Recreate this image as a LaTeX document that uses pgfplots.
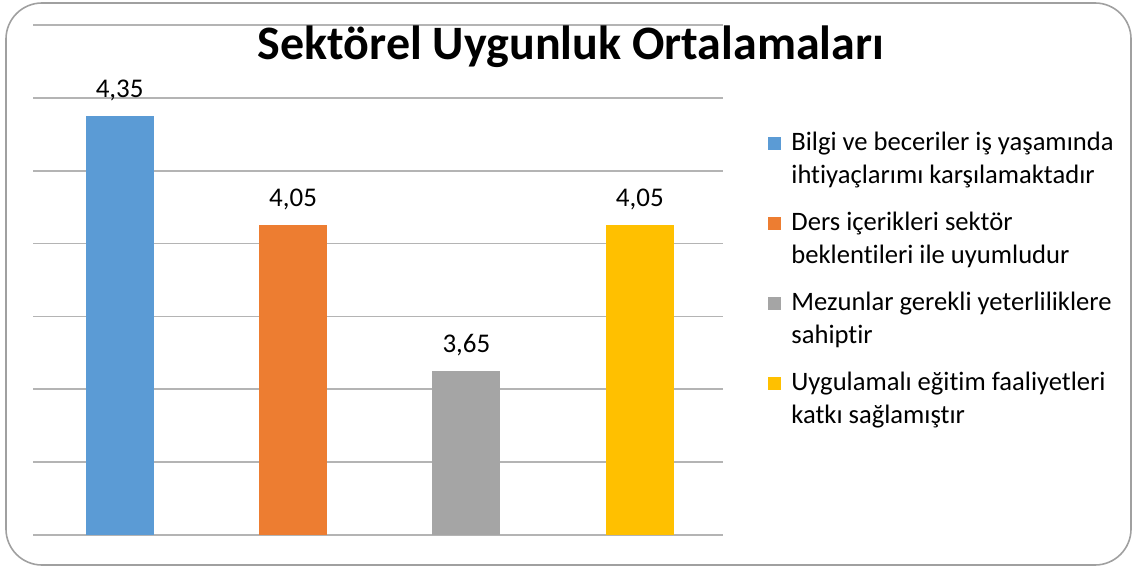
\documentclass[border=0pt]{standalone}
\usepackage{fontspec}
\setmainfont{Carlito}[Ligatures=NoCommon]
\usepackage{pgfplots}
\pgfplotsset{compat=1.18}

\definecolor{cblue}{HTML}{5B9BD5}
\definecolor{corange}{HTML}{ED7D31}
\definecolor{cgray}{HTML}{A5A5A5}
\definecolor{cyellow}{HTML}{FFC000}
\definecolor{gridc}{HTML}{B4B4B4}
\definecolor{framec}{HTML}{A0A0A0}

\begin{document}
\begin{tikzpicture}
  % 1 px of the reference = 0.5pt; axis lower-left at px (33,535)
  \begin{scope}[x=0.5pt, y=-0.5pt, shift={(-16.5pt,267.5pt)}]
    \useasboundingbox (0,0) rectangle (1133,568);
    \draw[framec, line width=0.8pt, rounded corners=18pt] (6,3) rectangle (1131,565);
  \end{scope}
  \begin{axis}[
      at={(0,0)}, anchor=south west,
      scale only axis,
      width=345pt, height=255pt,
      xmin=-0.5, xmax=3.48,
      ymin=3.2, ymax=4.6,
      ytick={3.2,3.4,...,4.6},
      yticklabels={},
      xtick=\empty,
      ymajorgrids,
      major grid style={gridc, line width=0.9pt},
      axis line style={draw=none},
      major tick length=0pt,
      ybar, bar width=34pt, bar shift=0pt,
      nodes near coords,
      nodes near coords style={font=\fontsize{13.5}{15}\selectfont, text=black, yshift=4pt,
        /pgf/number format/.cd, fixed, fixed zerofill, precision=2, use comma, assume math mode=true},
      clip=false,
    ]
    \addplot[fill=cblue, draw=none] coordinates {(0,4.35)};
    \addplot[fill=corange, draw=none] coordinates {(1,4.05)};
    \addplot[fill=cgray, draw=none] coordinates {(2,3.65)};
    \addplot[fill=cyellow, draw=none] coordinates {(3,4.05)};
  \end{axis}
  \begin{scope}[x=0.5pt, y=-0.5pt, shift={(-16.5pt,267.5pt)}]
    \node[font=\fontsize{24}{28}\selectfont\bfseries] at (571,47) {Sektörel Uygunluk Ortalamaları};
    \begin{scope}[every node/.style={anchor=north west, font=\fontsize{13.3}{16.5}\selectfont, align=left, inner sep=0pt}]
      \fill[cblue] (768,137) rectangle (781,150);
      \node at (791,132) {Bilgi ve beceriler iş yaşamında\\ihtiyaçlarımı karşılamaktadır};
      \fill[corange] (768,217) rectangle (781,230);
      \node at (791,212) {Ders içerikleri sektör\\beklentileri ile uyumludur};
      \fill[cgray] (768,297) rectangle (781,310);
      \node at (791,292) {Mezunlar gerekli yeterliliklere\\sahiptir};
      \fill[cyellow] (768,377) rectangle (781,390);
      \node at (791,372) {Uygulamalı eğitim faaliyetleri\\katkı sağlamıştır};
    \end{scope}
  \end{scope}
\end{tikzpicture}
\end{document}
